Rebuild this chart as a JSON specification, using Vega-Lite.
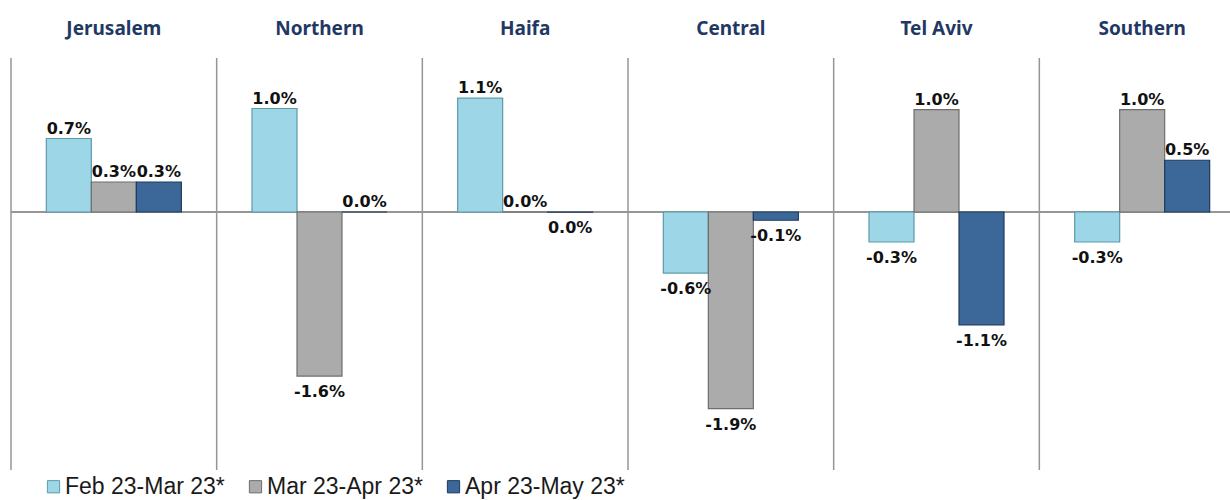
{
  "$schema": "https://vega.github.io/schema/vega-lite/v6.json",
  "width": 1234,
  "height": 412,
  "autosize": {"type": "none"},
  "padding": {"left": 11, "top": 58, "right": -15, "bottom": 30},
  "background": "white",
  "config": {"view": {"stroke": null}},
  "data": {"values": [
    {"region": "Jerusalem", "period": "Feb 23-Mar 23*", "value": 0.71, "label": "0.7%"},
    {"region": "Jerusalem", "period": "Mar 23-Apr 23*", "value": 0.29, "label": "0.3%"},
    {"region": "Jerusalem", "period": "Apr 23-May 23*", "value": 0.29, "label": "0.3%"},
    {"region": "Northern", "period": "Feb 23-Mar 23*", "value": 1.0, "label": "1.0%"},
    {"region": "Northern", "period": "Mar 23-Apr 23*", "value": -1.585, "label": "-1.6%"},
    {"region": "Northern", "period": "Apr 23-May 23*", "value": 0.0, "label": "0.0%"},
    {"region": "Haifa", "period": "Feb 23-Mar 23*", "value": 1.1, "label": "1.1%"},
    {"region": "Haifa", "period": "Mar 23-Apr 23*", "value": 0.0, "label": "0.0%"},
    {"region": "Haifa", "period": "Apr 23-May 23*", "value": -0.001, "label": "0.0%"},
    {"region": "Central", "period": "Feb 23-Mar 23*", "value": -0.59, "label": "-0.6%"},
    {"region": "Central", "period": "Mar 23-Apr 23*", "value": -1.9, "label": "-1.9%"},
    {"region": "Central", "period": "Apr 23-May 23*", "value": -0.08, "label": "-0.1%"},
    {"region": "Tel Aviv", "period": "Feb 23-Mar 23*", "value": -0.29, "label": "-0.3%"},
    {"region": "Tel Aviv", "period": "Mar 23-Apr 23*", "value": 0.99, "label": "1.0%"},
    {"region": "Tel Aviv", "period": "Apr 23-May 23*", "value": -1.09, "label": "-1.1%"},
    {"region": "Southern", "period": "Feb 23-Mar 23*", "value": -0.29, "label": "-0.3%"},
    {"region": "Southern", "period": "Mar 23-Apr 23*", "value": 0.99, "label": "1.0%"},
    {"region": "Southern", "period": "Apr 23-May 23*", "value": 0.5, "label": "0.5%"}
  ]},
  "layer": [
    {
      "mark": {"type": "rule", "color": "#969696", "strokeWidth": 1.5},
      "transform": [{"filter": "datum.period === 'Feb 23-Mar 23*'"}],
      "encoding": {
        "x": {"field": "region", "type": "nominal", "bandPosition": 0,
          "sort": ["Jerusalem", "Northern", "Haifa", "Central", "Tel Aviv", "Southern"],
          "scale": {"paddingInner": 0, "paddingOuter": 0},
          "axis": {"orient": "top", "title": null, "domain": false, "ticks": false, "tickSize": 0, "labelPadding": 24, "labelBaseline": "alphabetic", "labelFont": "Noto Sans", "labelFontWeight": "bold", "labelFontSize": 19, "labelColor": "#1F3864", "labelAngle": 0}
        },
        "y": {"datum": 1.488, "type": "quantitative", "axis": null, "scale": {"domain": [-2.493, 1.488], "nice": false, "zero": false}},
        "y2": {"datum": -2.493}
      }
    },
    {
      "mark": {"type": "rule", "color": "#969696", "strokeWidth": 1.5},
      "encoding": {"y": {"datum": 0, "type": "quantitative", "axis": null}}
    },
    {
      "mark": {"type": "bar", "strokeWidth": 1.2},
      "encoding": {
        "x": {
          "field": "region", "type": "nominal",
          "sort": ["Jerusalem", "Northern", "Haifa", "Central", "Tel Aviv", "Southern"],
          "scale": {"paddingInner": 0, "paddingOuter": 0},
          "axis": {"orient": "top", "title": null, "domain": false, "ticks": false, "tickSize": 0, "labelPadding": 24, "labelBaseline": "alphabetic", "labelFont": "Noto Sans", "labelFontWeight": "bold", "labelFontSize": 19, "labelColor": "#1F3864", "labelAngle": 0}
        },
        "xOffset": {
          "field": "period", "type": "nominal",
          "sort": ["Feb 23-Mar 23*", "Mar 23-Apr 23*", "Apr 23-May 23*"],
          "scale": {"paddingInner": 0, "paddingOuter": 0.785}
        },
        "y": {
          "field": "value", "type": "quantitative",
          "scale": {"domain": [-2.493, 1.488], "nice": false, "zero": false},
          "axis": null
        },
        "color": {
          "field": "period", "type": "nominal",
          "sort": ["Feb 23-Mar 23*", "Mar 23-Apr 23*", "Apr 23-May 23*"],
          "scale": {"domain": ["Feb 23-Mar 23*", "Mar 23-Apr 23*", "Apr 23-May 23*"], "range": ["#9DD7E7", "#ABABAB", "#3C6899"]},
          "legend": {
            "orient": "none", "legendX": 31, "legendY": 417, "direction": "horizontal",
            "title": null, "symbolType": "square", "symbolSize": 150,
            "symbolStrokeWidth": 1, "labelFont": "Liberation Sans", "labelFontSize": 23,
            "labelColor": "#1a1a1a", "labelOffset": 0, "columnPadding": 19, "padding": 0
          }
        },
        "stroke": {
          "field": "period", "type": "nominal",
          "scale": {"domain": ["Feb 23-Mar 23*", "Mar 23-Apr 23*", "Apr 23-May 23*"], "range": ["#5E9AAA", "#6E6E6E", "#1E3A5E"]},
          "legend": null
        }
      }
    },
    {
      "mark": {"type": "text", "baseline": "alphabetic", "dy": -5, "font": "DejaVu Sans", "fontWeight": "bold", "fontSize": 16, "color": "#111111"},
      "transform": [{"filter": "datum.value >= 0"}],
      "encoding": {
        "x": {"field": "region", "type": "nominal",
          "sort": ["Jerusalem", "Northern", "Haifa", "Central", "Tel Aviv", "Southern"],
          "scale": {"paddingInner": 0, "paddingOuter": 0},
          "axis": {"orient": "top", "title": null, "domain": false, "ticks": false, "tickSize": 0, "labelPadding": 24, "labelBaseline": "alphabetic", "labelFont": "Noto Sans", "labelFontWeight": "bold", "labelFontSize": 19, "labelColor": "#1F3864", "labelAngle": 0}
        },
        "xOffset": {"field": "period", "type": "nominal", "sort": ["Feb 23-Mar 23*", "Mar 23-Apr 23*", "Apr 23-May 23*"]},
        "y": {"field": "value", "type": "quantitative", "axis": null},
        "text": {"field": "label"}
      }
    },
    {
      "mark": {"type": "text", "baseline": "alphabetic", "dy": 21, "font": "DejaVu Sans", "fontWeight": "bold", "fontSize": 16, "color": "#111111"},
      "transform": [{"filter": "datum.value < 0"}],
      "encoding": {
        "x": {"field": "region", "type": "nominal",
          "sort": ["Jerusalem", "Northern", "Haifa", "Central", "Tel Aviv", "Southern"],
          "scale": {"paddingInner": 0, "paddingOuter": 0},
          "axis": {"orient": "top", "title": null, "domain": false, "ticks": false, "tickSize": 0, "labelPadding": 24, "labelBaseline": "alphabetic", "labelFont": "Noto Sans", "labelFontWeight": "bold", "labelFontSize": 19, "labelColor": "#1F3864", "labelAngle": 0}
        },
        "xOffset": {"field": "period", "type": "nominal", "sort": ["Feb 23-Mar 23*", "Mar 23-Apr 23*", "Apr 23-May 23*"]},
        "y": {"field": "value", "type": "quantitative", "axis": null},
        "text": {"field": "label"}
      }
    }
  ]
}
